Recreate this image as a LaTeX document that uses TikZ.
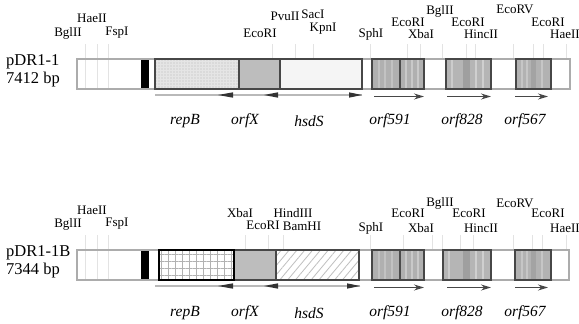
\documentclass[tikz,border=0pt]{standalone}
\usepackage{fontspec}
\setmainfont{Liberation Serif}
\usetikzlibrary{patterns.meta,arrows.meta}

\tikzset{
  site/.style={font=\fontsize{13}{13}\selectfont, inner sep=0pt},
  gene/.style={font=\fontsize{15.5}{15.5}\selectfont\itshape, inner sep=0pt},
  plasmid/.style={font=\fontsize{16.5}{18}\selectfont, align=left, anchor=west, inner sep=0pt},
  sitetick/.style={draw=gray!22, line width=0.9pt},
  barframe/.style={draw=gray!65, line width=1.6pt, fill=white},
  genebox/.style={draw=black!72, line width=1.4pt},
  stripe/.style={line width=1.6pt},
  orfarrow/.style={draw=black!72, line width=1.3pt, -{Stealth[length=10pt,width=6pt]}},
  operon/.style={draw=gray!55, line width=1.6pt},
  head/.style={fill=black!80},
}

% the part of a map row below the labels: ORF blocks and arrows
\newcommand{\orfblocks}[3]{%
  % orf591
  \fill[gray!62] (372,59) rectangle (424,89);
  \foreach \s in {379,385,392} \draw[stripe, gray!48] (\s,60) -- (\s,88);
  \draw[stripe, black!70] (400,60) -- (400,88);
  \foreach \s in {406,412,418} \draw[stripe, gray!42] (\s,60) -- (\s,88);
  \draw[genebox] (372,59) rectangle (424,89);
  % orf828
  \fill[gray!58] (#1,59) rectangle (491,89);
  \draw[stripe, gray!40] (#1+6,60) -- (#1+6,88);
  \fill[gray!75] (463,60) rectangle (470,88);
  \foreach \s in {476,483} \draw[stripe, gray!38] (\s,60) -- (\s,88);
  \draw[genebox] (#1,59) rectangle (491,89);
  % orf567
  \fill[gray!60] (#2,59) rectangle (551,89);
  \foreach \s in {522,527} \draw[stripe, gray!45] (\s,60) -- (\s,88);
  \fill[gray!72] (531,60) rectangle (536,88);
  \draw[stripe, gray!45] (542,60) -- (542,88);
  \draw[genebox] (#2,59) rectangle (551,89);
  % transcription arrows
  \draw[operon] (155,95) -- (#3,95);
  \fill[head] (218,95) -- (233,92.3) -- (233,97.7) -- cycle;
  \fill[head] (264,95) -- (278,92.3) -- (278,97.7) -- cycle;
  \fill[head] (#3,95) -- (#3-13,92.3) -- (#3-13,97.7) -- cycle;
  \draw[orfarrow] (374,96.5) -- (424,96.5);
  \draw[orfarrow] (447,96.5) -- (491,96.5);
  \draw[orfarrow] (515,96.5) -- (548,96.5);
}

\begin{document}
\begin{tikzpicture}[x=1pt,y=-1pt]
\useasboundingbox[fill=white] (0,0) rectangle (579,324);

% ---------------- pDR1-1 ----------------
\foreach \t in {85,97,108} \draw[sitetick] (\t,44) -- (\t,89);
\foreach \t in {272,295,313,370,407,420,442,466,475,513,533,543,566}
  \draw[sitetick] (\t,44) -- (\t,59);
\draw[barframe] (77,59) rectangle (570,89);
\foreach \t in {85,97,108} \draw[sitetick] (\t,60) -- (\t,88);
\fill[black] (141,60) rectangle (149,88);
\fill[gray!20] (155,59) rectangle (239,89);
\fill[pattern={Dots[distance=3pt,radius=0.55pt]}, pattern color=gray!55] (155,59) rectangle (239,89);
\draw[genebox] (155,59) rectangle (239,89);
\draw[genebox, fill=gray!52] (239,59) rectangle (280,89);
\draw[genebox, fill=gray!8] (280,59) rectangle (362,89);
\orfblocks{446}{516}{362}

\node[plasmid] (p1) at (6,71) {pDR1-1\\7412 bp};

\node[site] (a1) at (92,18) {HaeII};
\node[site] (a2) at (68,33) {BglII};
\node[site] (a3) at (117,33) {FspI};
\node[site] (a4) at (260,33) {EcoRI};
\node[site] (a5) at (285,16) {PvuII};
\node[site] (a6) at (313,14) {SacI};
\node[site] (a7) at (323,28.5) {KpnI};
\node[site] (a8) at (371,34) {SphI};
\node[site] (a9) at (408,22) {EcoRI};
\node[site] (a10) at (421,34) {XbaI};
\node[site] (a11) at (440,11) {BglII};
\node[site] (a12) at (468,22) {EcoRI};
\node[site] (a13) at (481,34) {HincII};
\node[site] (a14) at (515,9) {EcoRV};
\node[site] (a15) at (548,22) {EcoRI};
\node[site] (a16) at (565,34) {HaeII};

\node[gene] (g1) at (185,121) {repB};
\node[gene] (g2) at (245,121) {orfX};
\node[gene] (g3) at (309,121) {hsdS};
\node[gene] (g4) at (390,121) {orf591};
\node[gene] (g5) at (462,121) {orf828};
\node[gene] (g6) at (525,121) {orf567};

% ---------------- pDR1-1B ----------------
\begin{scope}[shift={(0,191)}]
\foreach \t in {85,97,108} \draw[sitetick] (\t,44) -- (\t,89);
\foreach \t in {245,268,283,370,403,432,442,460,473,513,532,542,566}
  \draw[sitetick] (\t,44) -- (\t,59);
\draw[barframe] (77,59) rectangle (569,89);
\foreach \t in {85,97,108} \draw[sitetick] (\t,60) -- (\t,88);
\fill[black] (141,60) rectangle (149,88);
\fill[white] (159,59) rectangle (234,89);
\fill[pattern={Hatch[distance=7pt,line width=0.9pt]}, pattern color=gray!60] (159,59) rectangle (234,89);
\draw[genebox, fill=gray!52] (234,59) rectangle (276,89);
\fill[white] (276,59) rectangle (359,89);
\fill[pattern={Lines[angle=50,distance=6pt,line width=0.8pt]}, pattern color=gray!50] (276,59) rectangle (359,89);
\draw[genebox] (276,59) rectangle (359,89);
\draw[black, line width=1.2pt] (159,59) rectangle (234,89);
\orfblocks{443}{515}{360}
\end{scope}

\node[plasmid] (p2) at (6,262) {pDR1-1B\\7344 bp};

\node[site] (b1) at (92,210) {HaeII};
\node[site] (b2) at (68,224) {BglII};
\node[site] (b3) at (117,224) {FspI};
\node[site] (b4) at (240,213) {XbaI};
\node[site] (b5) at (263,225) {EcoRI};
\node[site] (b6) at (293,213) {HindIII};
\node[site] (b7) at (302,226) {BamHI};
\node[site] (b8) at (371,228) {SphI};
\node[site] (b9) at (408,213) {EcoRI};
\node[site] (b10) at (421,228) {XbaI};
\node[site] (b11) at (440,203) {BglII};
\node[site] (b12) at (469,213) {EcoRI};
\node[site] (b13) at (481,228) {HincII};
\node[site] (b14) at (515,203) {EcoRV};
\node[site] (b15) at (548,213) {EcoRI};
\node[site] (b16) at (565,228) {HaeII};

\node[gene] (h1) at (185,313) {repB};
\node[gene] (h2) at (245,313) {orfX};
\node[gene] (h3) at (309,313) {hsdS};
\node[gene] (h4) at (390,313) {orf591};
\node[gene] (h5) at (462,313) {orf828};
\node[gene] (h6) at (525,313) {orf567};
\end{tikzpicture}
\end{document}
